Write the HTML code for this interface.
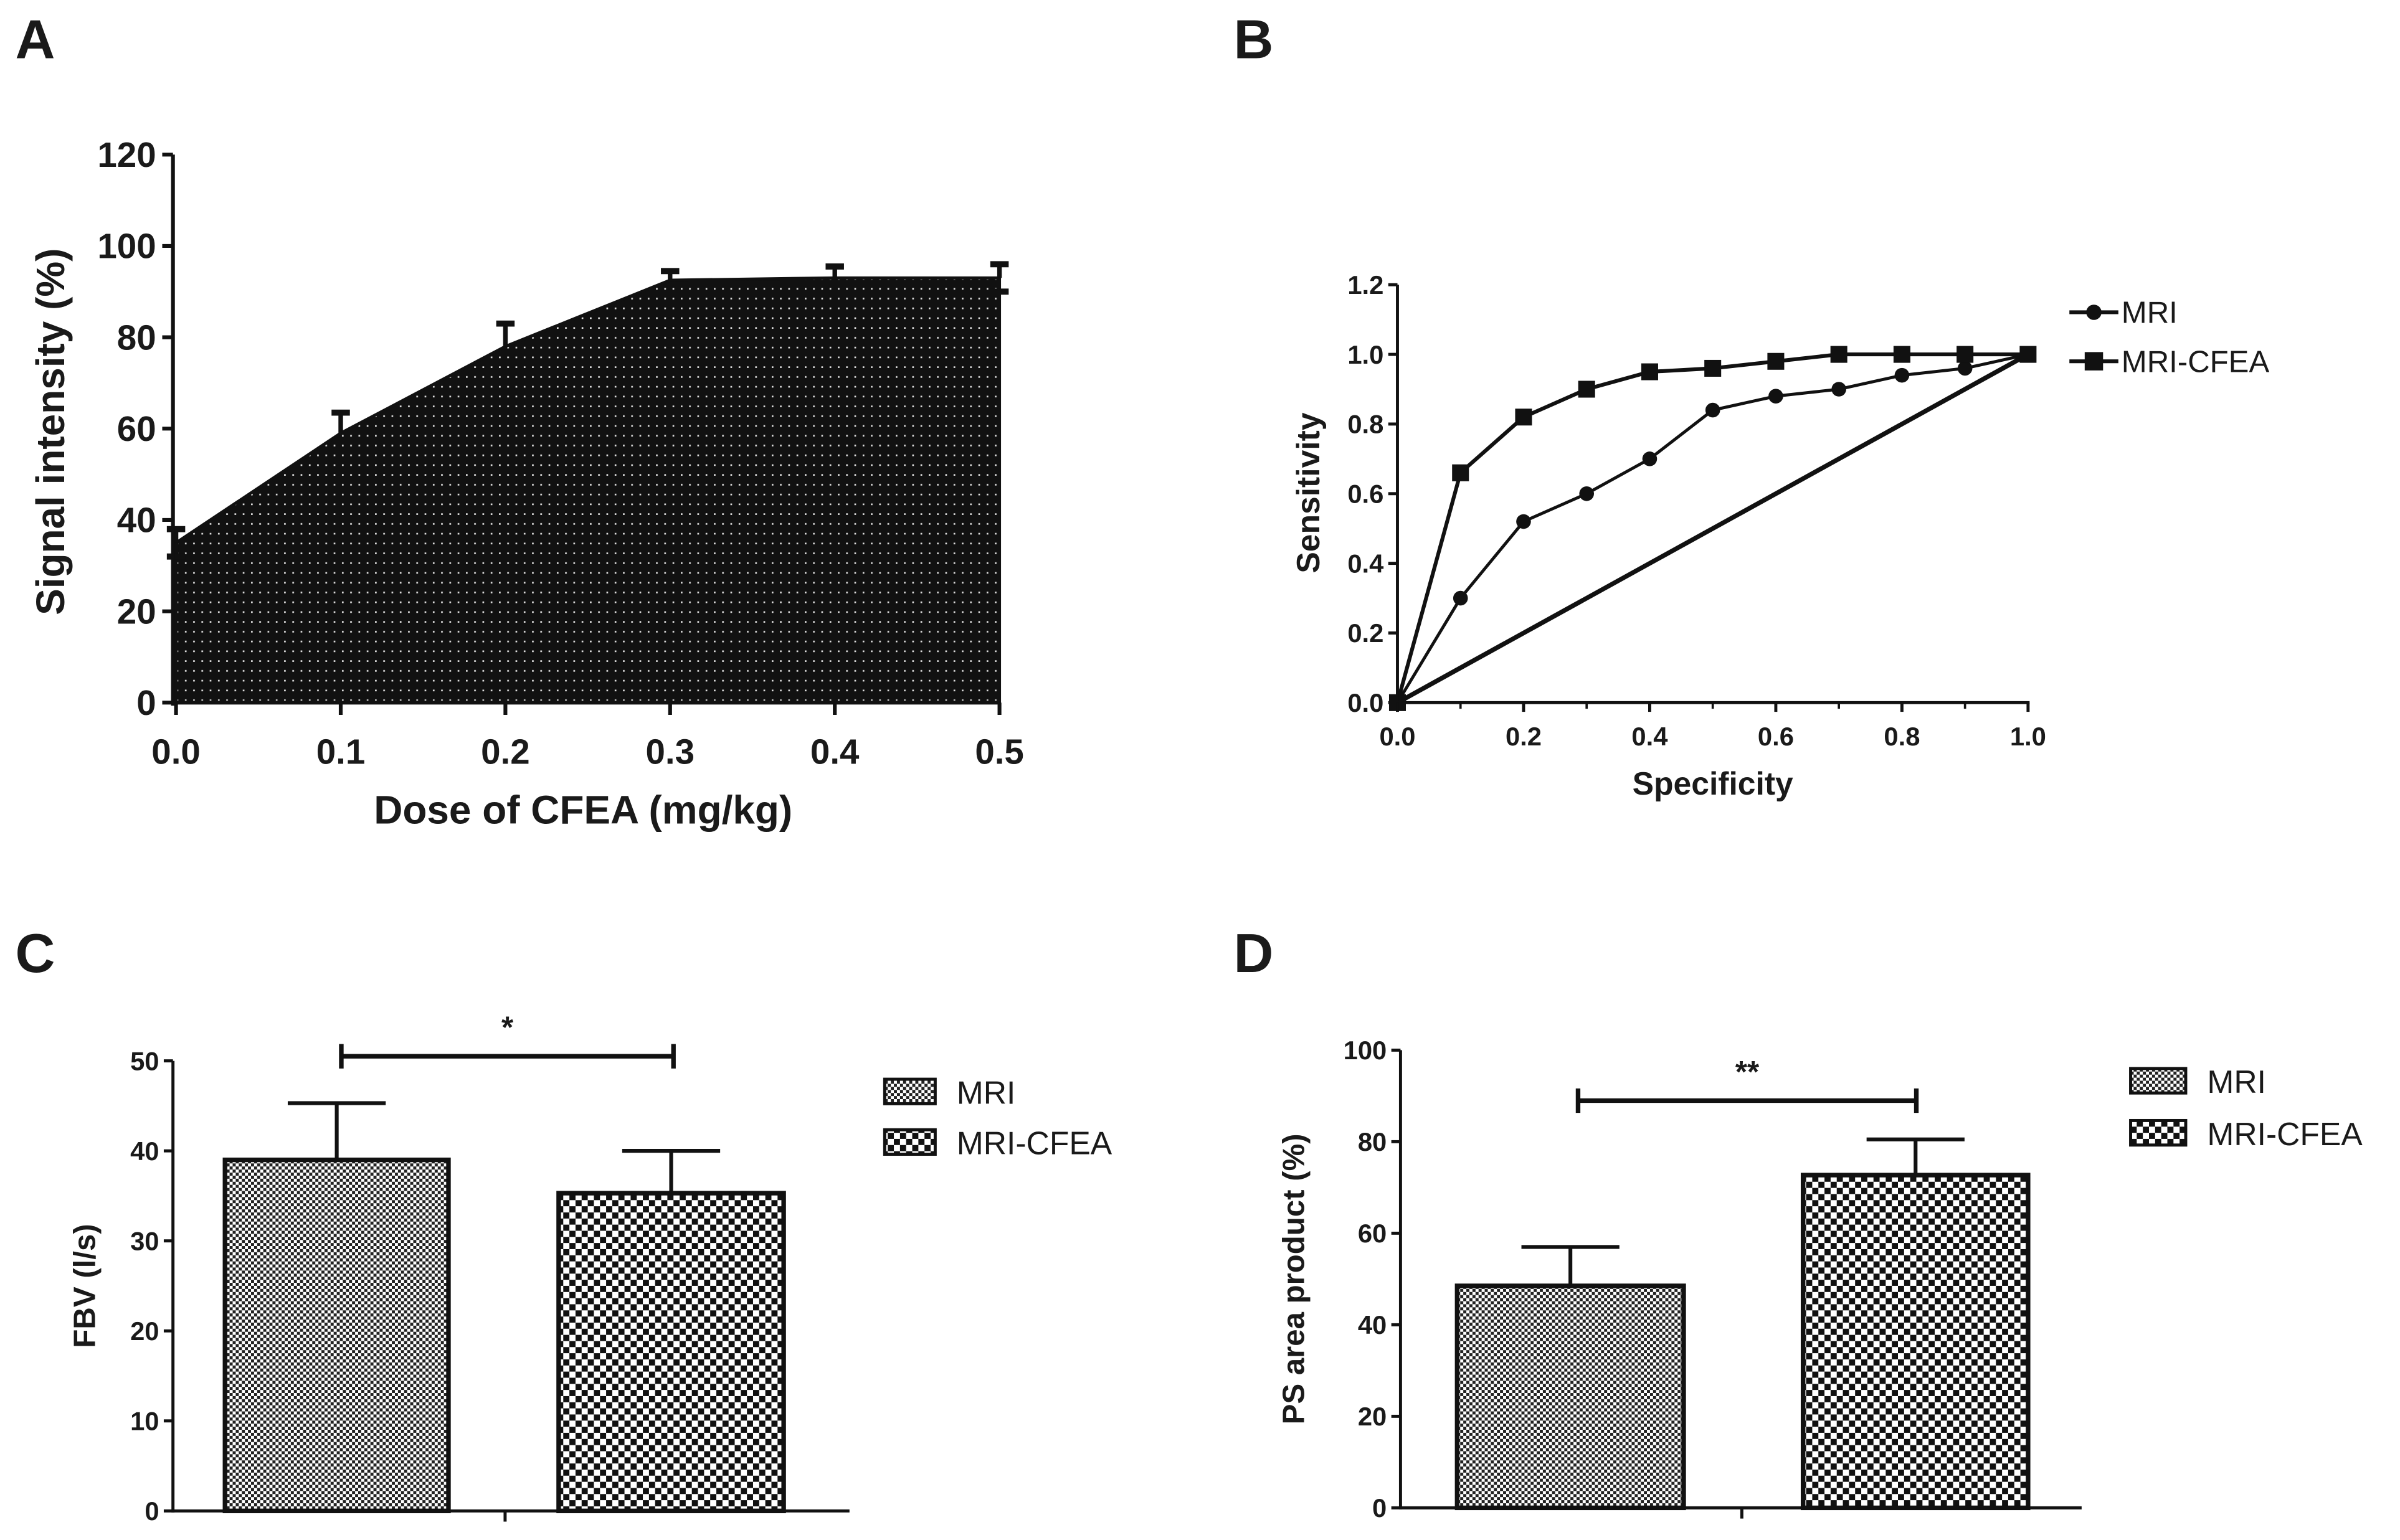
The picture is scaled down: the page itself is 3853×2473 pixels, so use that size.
<!DOCTYPE html>
<html><head><meta charset="utf-8"><style>
html,body{margin:0;padding:0;background:#fff}
svg{display:block}
text{font-family:"Liberation Sans",Arial,sans-serif;fill:#1a1a1a}
</style></head><body>
<svg id="fig" width="3853" height="2473" viewBox="0 0 1568 1006" preserveAspectRatio="none" xmlns="http://www.w3.org/2000/svg">
<defs>
<pattern id="dots" width="5.4" height="6.4" patternUnits="userSpaceOnUse"><rect width="5.4" height="6.4" fill="#111"/><rect x="2" y="2.5" width="1.1" height="1.1" fill="#ddd"/></pattern>
<pattern id="fine" width="4" height="4" patternUnits="userSpaceOnUse"><rect width="4" height="4" fill="#fff"/><rect width="2" height="2" fill="#222"/><rect x="2" y="2" width="2" height="2" fill="#222"/></pattern>
<pattern id="coarse" width="8" height="8" patternUnits="userSpaceOnUse"><rect width="8" height="8" fill="#fff"/><rect width="4" height="4" fill="#111"/><rect x="4" y="4" width="4" height="4" fill="#111"/></pattern>
</defs>
<g id="root"></g>
</svg>
<script>
// Panel A data
const aDose=[0,0.1,0.2,0.3,0.4,0.5];
const aMean=[35,59,78,92.5,93,93];
const aErr=[3,4.5,5,2,2.5,3];
const aYTicks=[0,20,40,60,80,100,120];
const aXTicks=["0.0","0.1","0.2","0.3","0.4","0.5"];
// Panel B data
const bX=[0,0.1,0.2,0.3,0.4,0.5,0.6,0.7,0.8,0.9,1.0];
const bMRI=[0,0.30,0.52,0.60,0.70,0.84,0.88,0.90,0.94,0.96,1.0];
const bCFEA=[0,0.66,0.82,0.90,0.95,0.96,0.98,1.0,1.0,1.0,1.0];
const bYTicks=["0.0","0.2","0.4","0.6","0.8","1.0","1.2"];
const bXTicks=["0.0","0.2","0.4","0.6","0.8","1.0"];
// Panel C data
const groups=["MRI","MRI-CFEA"];
const cMean=[39,35.3];
const cErr=[6.3,4.7];
const cYTicks=[0,10,20,30,40,50];
// Panel D data
const dMean=[48.5,72.7];
const dErr=[8.5,7.8];
const dYTicks=[0,20,40,60,80,100];

const NS="http://www.w3.org/2000/svg";
const root=document.getElementById('root');
function mk(tag,attrs,parent,txt){const e=document.createElementNS(NS,tag);for(const k in attrs)e.setAttribute(k,attrs[k]);if(txt!==undefined)e.textContent=txt;(parent||root).appendChild(e);return e;}
function line(x1,y1,x2,y2,w,p){return mk('line',{x1,y1,x2,y2,stroke:'#111','stroke-width':w||2},p);}

// Panel labels
for(const [t,x,y] of [["A",10,38],["B",806,38],["C",10,635],["D",806,635]]){
  const e=mk('text',{x,y,'font-size':36,'font-weight':'bold'},root,t);
  
  
}

// ---------- Panel A ----------
{
const g=mk('g',{});


const X=v=>115+v/0.5*538, Y=v=>459-v/120*358;
let d='M'+X(0)+','+Y(0);
aDose.forEach((v,i)=>d+=' L'+X(v)+','+Y(aMean[i]));
d+=' L'+X(0.5)+','+Y(0)+' Z';
const area=mk('path',{d,fill:'url(#dots)',stroke:'#111','stroke-width':2},g);


aDose.forEach((v,i)=>{
  const x=X(v),top=Y(aMean[i]+aErr[i]);
  const eb=mk('g',{},g);
  
  
  line(x,Y(aMean[i]),x,top,3,eb);line(x-6,top,x+6,top,4,eb);
  if(i===0){line(x,Y(aMean[i]),x,Y(aMean[i]-aErr[i]),3,eb);line(x-6,Y(aMean[i]-aErr[i]),x+6,Y(aMean[i]-aErr[i]),4,eb);}
  if(i===5){line(x-6,Y(aMean[i]-aErr[i]),x+6,Y(aMean[i]-aErr[i]),4,eb);}
});
line(113,Y(120),113,461,2.5,g);line(113,459,653,459,2.5,g);
aYTicks.forEach(v=>{line(106,Y(v),113,Y(v),2.5,g);const t=mk('text',{x:102,y:Y(v)+8,'font-size':23,'font-weight':'bold','text-anchor':'end'},g,v);});
aXTicks.forEach((s,i)=>{const x=X(aDose[i]);line(x,459,x,467,2.5,g);const t=mk('text',{x,y:499,'font-size':23,'font-weight':'bold','text-anchor':'middle'},g,s);});
const xt=mk('text',{x:381,y:538,'font-size':26,'font-weight':'bold','text-anchor':'middle'},g,'Dose of CFEA (mg/kg)');

const yt=mk('text',{x:0,y:0,'font-size':26,'font-weight':'bold','text-anchor':'middle',transform:'translate(42,282) rotate(-90)'},g,'Signal intensity (%)');

}

// ---------- Panel B ----------
{
const g=mk('g',{});


const X=v=>913+v*412, Y=v=>459-v/1.2*273;
line(X(0),Y(0),X(1),Y(1),3,g);
const p1=mk('polyline',{points:bX.map((v,i)=>X(v)+','+Y(bMRI[i])).join(' '),fill:'none',stroke:'#111','stroke-width':2},g);

const p2=mk('polyline',{points:bX.map((v,i)=>X(v)+','+Y(bCFEA[i])).join(' '),fill:'none',stroke:'#111','stroke-width':2.5},g);

bX.forEach((v,i)=>{
  const c=mk('circle',{cx:X(v),cy:Y(bMRI[i]),r:4.8,fill:'#111'},g);
  
  const s=mk('rect',{x:X(v)-5.5,y:Y(bCFEA[i])-5.5,width:11,height:11,fill:'#111'},g);
  
});
line(913,Y(1.2),913,461,2,g);line(913,459,1326,459,2,g);
bYTicks.forEach(s=>{const v=+s;line(907,Y(v),913,Y(v),2,g);const t=mk('text',{x:904,y:Y(v)+6,'font-size':17,'font-weight':'bold','text-anchor':'end'},g,s);});
bXTicks.forEach(s=>{const x=X(+s);line(x,459,x,465,2,g);const t=mk('text',{x,y:487,'font-size':17,'font-weight':'bold','text-anchor':'middle'},g,s);});
for(let k=0;k<=10;k++){line(X(k/10),459,X(k/10),463,1.5,g);}
const xt=mk('text',{x:1119,y:519,'font-size':21,'font-weight':'bold','text-anchor':'middle'},g,'Specificity');

const yt=mk('text',{x:0,y:0,'font-size':21,'font-weight':'bold','text-anchor':'middle',transform:'translate(862,322) rotate(-90)'},g,'Sensitivity');

const l1=mk('g',{},g);
line(1352,204,1384,204,2.5,l1);mk('circle',{cx:1368,cy:204,r:5,fill:'#111'},l1);mk('text',{x:1386,y:211,'font-size':20},l1,'MRI');
const l2=mk('g',{},g);
line(1352,236,1384,236,2.5,l2);mk('rect',{x:1362,y:230,width:12,height:12,fill:'#111'},l2);mk('text',{x:1386,y:243,'font-size':20},l2,'MRI-CFEA');
}

// ---------- bar panels ----------
function barPanel(cfg){
const g=mk('g',{});


const Y=v=>cfg.y0-v/cfg.max*(cfg.y0-cfg.yTop);
const fills=['url(#fine)','url(#coarse)'];
cfg.mean.forEach((m,i)=>{
  const [x0,x1]=cfg.bars[i];const xc=(x0+x1)/2;
  const eb=mk('g',{},g);
  line(xc,Y(m),xc,Y(m+cfg.err[i]),2.5,eb);line(xc-32,Y(m+cfg.err[i]),xc+32,Y(m+cfg.err[i]),2.5,eb);
  const r=mk('rect',{x:x0,y:Y(m),width:x1-x0,height:Y(0)-Y(m),fill:fills[i],stroke:'#111','stroke-width':3},g);
  
});
line(cfg.ax,cfg.yTop,cfg.ax,cfg.y0+1,2,g);line(cfg.ax,cfg.y0,cfg.axEnd,cfg.y0,2,g);
line(cfg.tickX,cfg.y0,cfg.tickX,cfg.y0+7,2,g);
cfg.ticks.forEach(v=>{line(cfg.ax-6,Y(v),cfg.ax,Y(v),2,g);const t=mk('text',{x:cfg.ax-9,y:Y(v)+6,'font-size':17,'font-weight':'bold','text-anchor':'end'},g,v);});
const yt=mk('text',{x:0,y:0,'font-size':20,'font-weight':'bold','text-anchor':'middle',transform:`translate(${cfg.titleX},${(cfg.y0+cfg.yTop)/2}) rotate(-90)`},g,cfg.title);

const br=mk('g',{},g);
line(cfg.brk[0],cfg.brk[2],cfg.brk[1],cfg.brk[2],3,br);line(cfg.brk[0],cfg.brk[2]-8,cfg.brk[0],cfg.brk[2]+8,3,br);line(cfg.brk[1],cfg.brk[2]-8,cfg.brk[1],cfg.brk[2]+8,3,br);
mk('text',{x:(cfg.brk[0]+cfg.brk[1])/2,y:cfg.brk[2]-12,'font-size':20,'font-weight':'bold','text-anchor':'middle'},br,cfg.star);
groups.forEach((gname,i)=>{
  const le=mk('g',{},g);
  const ly=cfg.leg[1]+i*cfg.leg[3];
  mk('rect',{x:cfg.leg[0],y:ly-8,width:cfg.leg[2],height:16,fill:fills[i],stroke:'#111','stroke-width':2},le);
  mk('text',{x:cfg.leg[0]+cfg.leg[2]+14,y:ly+8,'font-size':21},le,gname);
});
}
barPanel({name:'panel-c-chart',mean:cMean,err:cErr,ticks:cYTicks,max:50,y0:987,yTop:693,ax:113,axEnd:555,tickX:330,bars:[[147,293],[365,512]],title:'FBV (l/s)',titleX:62,brk:[223,440,690],star:'*',leg:[578,713,33,33]});
barPanel({name:'panel-d-chart',mean:dMean,err:dErr,ticks:dYTicks,max:100,y0:985,yTop:686,ax:915,axEnd:1360,tickX:1138,bars:[[952,1100],[1178,1325]],title:'PS area product (%)',titleX:852,brk:[1031,1252,719],star:'**',leg:[1392,706,36,34]});
</script>
</body></html>
